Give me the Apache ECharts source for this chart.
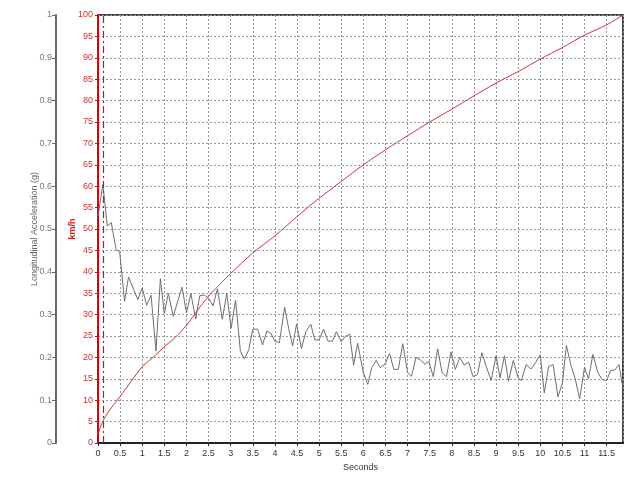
<!DOCTYPE html>
<html>
<head>
<meta charset="utf-8">
<script src="https://cdn.jsdelivr.net/npm/echarts@6/dist/echarts.min.js"></script>
<style>
  html, body { margin: 0; padding: 0; background: #fff; }
  #c1 { width: 640px; height: 480px; }
</style>
</head>
<body>
<div id="c1"></div>
<script>
// longitudinal acceleration (g)
var accelTime = [0.00, 0.11, 0.21, 0.30, 0.41, 0.49, 0.60, 0.69, 0.81, 0.90,
  1.00, 1.10, 1.20, 1.31, 1.41, 1.50, 1.59, 1.70, 1.80, 1.90,
  2.00, 2.10, 2.21, 2.30, 2.41, 2.51, 2.60, 2.70, 2.81, 2.91,
  3.01, 3.11, 3.22, 3.31, 3.41, 3.50, 3.61, 3.72, 3.82, 3.91,
  4.00, 4.10, 4.22, 4.31, 4.40, 4.49, 4.60, 4.70, 4.81, 4.90,
  5.00, 5.10, 5.20, 5.30, 5.39, 5.50, 5.59, 5.69, 5.78, 5.87,
  6.00, 6.10, 6.19, 6.29, 6.38, 6.49, 6.59, 6.69, 6.79, 6.89,
  7.00, 7.09, 7.19, 7.29, 7.39, 7.48, 7.58, 7.68, 7.78, 7.88,
  7.98, 8.08, 8.18, 8.28, 8.38, 8.48, 8.58, 8.68, 8.78, 8.89,
  9.00, 9.09, 9.19, 9.28, 9.39, 9.50, 9.57, 9.68, 9.79, 9.89,
  10.00, 10.09, 10.19, 10.29, 10.40, 10.50, 10.59, 10.69, 10.79, 10.89,
  11.00, 11.09, 11.19, 11.30, 11.40, 11.50, 11.59, 11.69, 11.78, 11.86];
var accelG = [0.530, 0.604, 0.507, 0.515, 0.452, 0.446, 0.331, 0.388, 0.358, 0.335,
  0.362, 0.322, 0.345, 0.215, 0.384, 0.302, 0.350, 0.296, 0.330, 0.364,
  0.304, 0.349, 0.290, 0.344, 0.346, 0.337, 0.320, 0.360, 0.289, 0.349,
  0.268, 0.334, 0.214, 0.196, 0.218, 0.266, 0.266, 0.229, 0.262, 0.256,
  0.238, 0.234, 0.317, 0.268, 0.227, 0.278, 0.221, 0.260, 0.278, 0.241,
  0.241, 0.266, 0.238, 0.238, 0.260, 0.237, 0.249, 0.254, 0.182, 0.233,
  0.164, 0.137, 0.176, 0.193, 0.176, 0.184, 0.209, 0.172, 0.172, 0.232,
  0.165, 0.156, 0.200, 0.194, 0.184, 0.191, 0.155, 0.220, 0.164, 0.155,
  0.213, 0.172, 0.200, 0.182, 0.189, 0.155, 0.160, 0.211, 0.178, 0.146,
  0.204, 0.152, 0.204, 0.144, 0.193, 0.152, 0.146, 0.183, 0.173, 0.187,
  0.206, 0.117, 0.179, 0.183, 0.108, 0.140, 0.228, 0.183, 0.150, 0.103,
  0.177, 0.150, 0.207, 0.165, 0.148, 0.146, 0.169, 0.171, 0.183, 0.132];

// vehicle speed (km/h)
var speedTime = [0, 0.1, 0.25, 0.5, 0.75, 1.0, 1.3, 1.5, 1.75, 2.0, 2.25, 2.5, 2.75, 3.0,
  3.5, 4.0, 4.5, 5.0, 5.5, 6.0, 6.5, 7.0, 7.5, 8.0, 8.5, 9.0, 9.5, 10.0, 10.5, 11.0, 11.5, 11.87];
var speedKmh = [2.0, 4.9, 7.5, 10.9, 14.4, 17.8, 20.5, 22.5, 24.7, 27.5, 31.0, 34.3, 37.0, 39.6,
  44.4, 48.4, 52.9, 57.2, 61.1, 65.0, 68.5, 71.8, 75.0, 78.0, 81.1, 84.1, 86.8, 89.7, 92.4, 95.3, 97.7, 100];

var markerTime = 0.12;
var timeMax = 11.87;

var accelData = [];
for (var i = 0; i < accelTime.length; i++) accelData.push([accelTime[i], accelG[i]]);
var speedData = [];
for (var j = 0; j < speedTime.length; j++) speedData.push([speedTime[j], speedKmh[j]]);

var font = 'Liberation Sans';
var myChart = echarts.init(document.getElementById('c1'));
var option = {
  animation: false,
  backgroundColor: '#fff',
  grid: {
    left: 98, right: 17, top: 15, bottom: 37,
    show: true, borderColor: '#444', borderWidth: 2, backgroundColor: 'transparent'
  },
  xAxis: {
    type: 'value',
    min: 0, max: timeMax, interval: 0.5,
    name: 'Seconds', nameLocation: 'middle', nameGap: 14,
    nameTextStyle: { fontFamily: font, fontSize: 9, color: '#333' },
    axisLine: { onZero: false, lineStyle: { color: '#222', width: 2 } },
    axisTick: { show: true, length: 3, lineStyle: { color: '#222' } },
    axisLabel: { fontFamily: font, fontSize: 9, color: '#333', margin: 6, showMaxLabel: false },
    splitLine: { show: true, lineStyle: { color: '#999', type: [2, 2], width: 1 } }
  },
  yAxis: [
    {
      type: 'value', position: 'left', offset: 42,
      min: 0, max: 1, interval: 0.1,
      name: 'Longitudinal Acceleration (g)', nameLocation: 'middle', nameGap: 17,
      nameMoveOverlap: false,
      nameTextStyle: { fontFamily: font, fontSize: 9, color: '#666' },
      axisLine: { show: true, onZero: false, lineStyle: { color: '#666', width: 2 } },
      axisTick: { show: true, length: 4, lineStyle: { color: '#666' } },
      axisLabel: { fontFamily: font, fontSize: 9, color: '#777', margin: 4 },
      splitLine: { show: false }
    },
    {
      type: 'value', position: 'left', offset: 0,
      min: 0, max: 100, interval: 5,
      name: 'km/h', nameLocation: 'middle', nameGap: 21,
      nameMoveOverlap: false,
      nameTextStyle: { fontFamily: font, fontSize: 9, color: '#d02020', fontWeight: 'bold' },
      axisLine: { show: true, onZero: false, lineStyle: { color: '#e00000', width: 2 } },
      axisTick: { show: true, length: 3, lineStyle: { color: '#e00000' } },
      axisLabel: { fontFamily: font, fontSize: 9, color: '#d03030', margin: 5 },
      splitLine: { show: true, lineStyle: { color: '#999', type: [2, 2], width: 1 } }
    }
  ],
  series: [
    {
      name: 'Longitudinal Acceleration',
      type: 'line', yAxisIndex: 0,
      showSymbol: false,
      lineStyle: { color: '#6e6e6e', width: 1 },
      data: accelData,
      markLine: {
        silent: true, symbol: 'none', label: { show: false },
        lineStyle: { color: '#d01010', type: [7, 3, 2, 3], width: 1.2 },
        data: [{ xAxis: markerTime }]
      }
    },
    {
      name: 'km/h',
      type: 'line', yAxisIndex: 1,
      showSymbol: false, smooth: 0.3,
      lineStyle: { color: '#c0393f', width: 1 },
      data: speedData
    }
  ]
};
myChart.setOption(option);
</script>
</body>
</html>
